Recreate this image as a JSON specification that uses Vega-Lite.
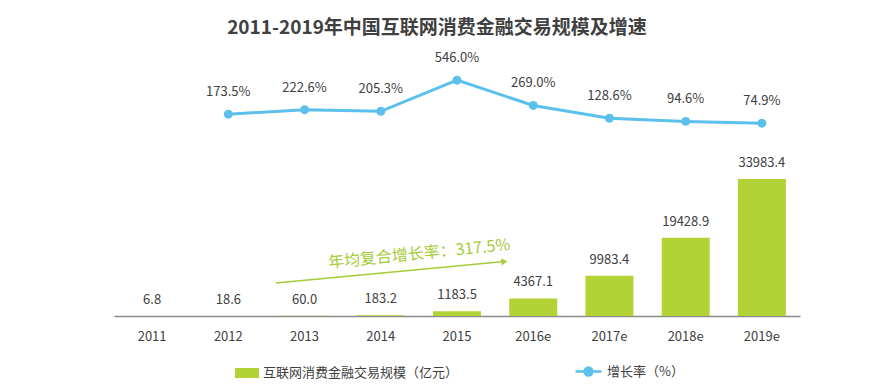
{
  "$schema": "https://vega.github.io/schema/vega-lite/v6.json",
  "autosize": "none",
  "width": 686,
  "height": 276,
  "padding": {"left": 114, "top": 40, "right": 96, "bottom": 74},
  "background": "white",
  "config": {
    "font": "Noto Sans CJK SC",
    "view": {"stroke": null}
  },
  "title": {
    "text": "2011-2019年中国互联网消费金融交易规模及增速",
    "fontSize": 19,
    "fontWeight": "bold",
    "color": "#404040",
    "anchor": "middle",
    "dx": -20,
    "offset": 2
  },
  "datasets": {
    "main": [
      {"year": "2011", "scale": 6.8, "growth": null},
      {"year": "2012", "scale": 18.6, "growth": 173.5},
      {"year": "2013", "scale": 60.0, "growth": 222.6},
      {"year": "2014", "scale": 183.2, "growth": 205.3},
      {"year": "2015", "scale": 1183.5, "growth": 546.0},
      {"year": "2016e", "scale": 4367.1, "growth": 269.0},
      {"year": "2017e", "scale": 9983.4, "growth": 128.6},
      {"year": "2018e", "scale": 19428.9, "growth": 94.6},
      {"year": "2019e", "scale": 33983.4, "growth": 74.9}
    ],
    "arrow": [
      {"year": "2013", "v": 8200},
      {"year": "2016e", "v": 13500}
    ],
    "arrowhead": [
      {"year": "2016e", "v": 13500}
    ],
    "note": [
      {"year": "2014", "v": 15400, "label": "年均复合增长率：317.5%"}
    ]
  },
  "layer": [
    {
      "data": {"name": "main"},
      "layer": [
        {
          "mark": {"type": "bar", "width": 48},
          "encoding": {
            "x": {
              "field": "year", "type": "ordinal", "sort": null,
              "scale": {"paddingInner": 0.37, "paddingOuter": 0.185},
              "axis": {
                "title": null, "domainColor": "#8c8c8c", "domainWidth": 1.5,
                "ticks": false, "labelAngle": 0, "labelFontSize": 13,
                "labelColor": "#404040", "labelPadding": 14, "grid": false
              }
            },
            "y": {"field": "scale", "type": "quantitative", "scale": {"domain": [0, 68500]}, "axis": null},
            "fill": {
              "datum": "互联网消费金融交易规模（亿元）",
              "scale": {"range": ["#b2d235"]},
              "legend": {
                "title": null, "orient": "none", "legendX": 121, "legendY": 321,
                "symbolType": "M-1,-0.42L1,-0.42L1,0.42L-1,0.42Z", "symbolSize": 576,
                "symbolStrokeWidth": 0, "labelLimit": 0,
                "labelFontSize": 13, "labelColor": "#404040", "labelOffset": 4
              }
            }
          }
        },
        {
          "mark": {"type": "text", "fontSize": 13, "color": "#404040", "baseline": "middle", "dy": -16},
          "encoding": {
            "x": {"field": "year", "type": "ordinal", "sort": null},
            "y": {"field": "scale", "type": "quantitative", "scale": {"domain": [0, 68500]}, "axis": null},
            "text": {"field": "scale", "type": "quantitative", "format": ".1f"}
          }
        }
      ]
    },
    {
      "data": {"name": "main"},
      "transform": [
        {"filter": "datum.growth != null"},
        {"calculate": "format(datum.growth, '.1f') + '%'", "as": "glabel"}
      ],
      "layer": [
        {
          "mark": {"type": "line", "strokeWidth": 3, "color": "#5bc0eb"},
          "encoding": {
            "x": {"field": "year", "type": "ordinal", "sort": null},
            "y": {"field": "growth", "type": "quantitative", "scale": {"domain": [-2037, 986]}, "axis": null},
            "stroke": {
              "datum": "增长率（%）",
              "scale": {"range": ["#5bc0eb"]},
              "legend": {
                "title": null, "orient": "none", "legendX": 460, "legendY": 317,
                "symbolType": "M-1,0L1,0M-0.3,0A0.3,0.3 0 1,0 0.3,0A0.3,0.3 0 1,0 -0.3,0Z",
                "symbolSize": 676, "symbolStrokeWidth": 2.5, "symbolFillColor": "#5bc0eb",
                "labelLimit": 0,
                "labelFontSize": 13, "labelColor": "#404040", "labelOffset": 4
              }
            }
          }
        },
        {
          "mark": {"type": "point", "filled": true, "size": 80, "color": "#5bc0eb", "opacity": 1},
          "encoding": {
            "x": {"field": "year", "type": "ordinal", "sort": null},
            "y": {"field": "growth", "type": "quantitative", "scale": {"domain": [-2037, 986]}, "axis": null}
          }
        },
        {
          "mark": {"type": "text", "fontSize": 13, "color": "#404040", "baseline": "middle", "dy": -22},
          "encoding": {
            "x": {"field": "year", "type": "ordinal", "sort": null},
            "y": {"field": "growth", "type": "quantitative", "scale": {"domain": [-2037, 986]}, "axis": null},
            "text": {"field": "glabel"}
          }
        }
      ]
    },
    {
      "data": {"name": "arrow"},
      "mark": {"type": "line", "color": "#a5cc38", "strokeWidth": 1.5},
      "encoding": {
        "x": {"field": "year", "type": "ordinal", "sort": null, "bandPosition": -0.1},
        "y": {"field": "v", "type": "quantitative", "scale": {"domain": [0, 68500]}, "axis": null}
      }
    },
    {
      "data": {"name": "arrowhead"},
      "mark": {"type": "point", "shape": "triangle-right", "filled": true, "size": 50, "color": "#a5cc38", "opacity": 1, "angle": -5.7},
      "encoding": {
        "x": {"field": "year", "type": "ordinal", "sort": null, "bandPosition": -0.1},
        "y": {"field": "v", "type": "quantitative", "scale": {"domain": [0, 68500]}, "axis": null}
      }
    },
    {
      "data": {"name": "note"},
      "mark": {"type": "text", "fontSize": 16, "color": "#a5cc38", "angle": -5.7, "align": "center", "baseline": "middle"},
      "encoding": {
        "x": {"field": "year", "type": "ordinal", "sort": null, "bandPosition": 1.3},
        "y": {"field": "v", "type": "quantitative", "scale": {"domain": [0, 68500]}, "axis": null},
        "text": {"field": "label"}
      }
    }
  ],
  "resolve": {"scale": {"y": "independent", "fill": "independent", "stroke": "independent"}}
}
